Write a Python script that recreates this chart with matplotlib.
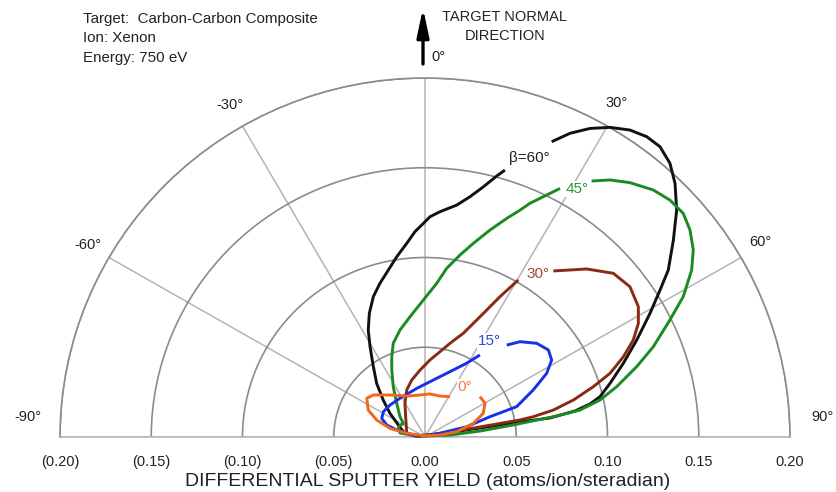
import numpy as np
import matplotlib
matplotlib.use("Agg")
import matplotlib.pyplot as plt
from matplotlib.transforms import offset_copy

plt.rcParams['font.family'] = ['Liberation Sans', 'DejaVu Sans']

# ---------------- data (yield components: lateral x, normal y; atoms/ion/sr) -------------
black_x = [0.0438, 0.0393, 0.0320, 0.0247, 0.0174, 0.0082, 0.0027, -0.0009, -0.0055, -0.0100,
           -0.0155, -0.0201, -0.0247, -0.0283, -0.0305, -0.0311, -0.0301, -0.0283, -0.0265, -0.0229,
           -0.0192, -0.0146, -0.0119, -0.0055, 0.0082, 0.0301, 0.0521, 0.0685, 0.0822, 0.0904,
           0.0959, 0.1014, 0.1087, 0.1160, 0.1233, 0.1288, 0.1333, 0.1361, 0.1379, 0.1370,
           0.1342, 0.1288, 0.1215, 0.1123, 0.1014, 0.0904, 0.0795, 0.0694]
black_y = [0.1487, 0.1454, 0.1394, 0.1339, 0.1292, 0.1255, 0.1227, 0.1190, 0.1144, 0.1079,
           0.1004, 0.0930, 0.0856, 0.0782, 0.0689, 0.0596, 0.0503, 0.0392, 0.0299, 0.0206,
           0.0132, 0.0067, 0.0030, 0.0006, 0.0017, 0.0050, 0.0084, 0.0106, 0.0145, 0.0184,
           0.0225, 0.0299, 0.0411, 0.0540, 0.0689, 0.0819, 0.0930, 0.1097, 0.1265, 0.1413,
           0.1525, 0.1617, 0.1673, 0.1710, 0.1725, 0.1719, 0.1692, 0.1645]

green_x = [0.0740, 0.0667, 0.0575, 0.0521, 0.0448, 0.0356, 0.0265, 0.0192, 0.0119, 0.0064,
           -0.0009, -0.0082, -0.0137, -0.0174, -0.0182, -0.0182, -0.0174, -0.0155, -0.0137, -0.0119,
           -0.0146, -0.0137, -0.0027, 0.0137, 0.0301, 0.0482, 0.0703, 0.0849, 0.0959, 0.1050,
           0.1160, 0.1251, 0.1342, 0.1415, 0.1461, 0.1470, 0.1452, 0.1415, 0.1342, 0.1251,
           0.1123, 0.1014, 0.0913]
green_y = [0.1385, 0.1348, 0.1302, 0.1264, 0.1218, 0.1153, 0.1079, 0.1014, 0.0940, 0.0856,
           0.0763, 0.0670, 0.0596, 0.0522, 0.0447, 0.0373, 0.0280, 0.0188, 0.0113, 0.0076,
           0.0057, 0.0022, 0.0003, 0.0011, 0.0033, 0.0067, 0.0113, 0.0150, 0.0206, 0.0280,
           0.0392, 0.0503, 0.0652, 0.0782, 0.0930, 0.1042, 0.1153, 0.1246, 0.1320, 0.1376,
           0.1417, 0.1432, 0.1426]

brown_x = [0.0511, 0.0411, 0.0338, 0.0265, 0.0210, 0.0137, 0.0082, 0.0027, -0.0027, -0.0073,
           -0.0100, -0.0110, -0.0106, -0.0100, -0.0038, 0.0137, 0.0301, 0.0521, 0.0593, 0.0703,
           0.0813, 0.0922, 0.1014, 0.1087, 0.1141, 0.1169, 0.1169, 0.1123, 0.1032, 0.0886, 0.0703]
brown_y = [0.0875, 0.0782, 0.0707, 0.0633, 0.0578, 0.0522, 0.0475, 0.0429, 0.0373, 0.0317,
           0.0262, 0.0188, 0.0113, 0.0021, 0.0003, 0.0028, 0.0056, 0.0095, 0.0113, 0.0150,
           0.0206, 0.0280, 0.0355, 0.0447, 0.0540, 0.0633, 0.0726, 0.0837, 0.0912, 0.0936, 0.0925]

blue_x = [0.0301, 0.0228, 0.0137, 0.0045, -0.0045, -0.0137, -0.0192, -0.0228, -0.0237, -0.0210,
          -0.0155, -0.0064, 0.0009, 0.0082, 0.0228, 0.0356, 0.0502, 0.0593, 0.0667, 0.0694,
          0.0676, 0.0612, 0.0521, 0.0448]
blue_y = [0.0457, 0.0411, 0.0364, 0.0317, 0.0271, 0.0216, 0.0178, 0.0141, 0.0104, 0.0067,
          0.0039, 0.0011, 0.0007, 0.0021, 0.0057, 0.0113, 0.0169, 0.0262, 0.0355, 0.0429,
          0.0485, 0.0522, 0.0531, 0.0512]

orange_x = [0.0137, 0.0082, 0.0027, -0.0027, -0.0100, -0.0192, -0.0283, -0.0319, -0.0311, -0.0265,
            -0.0192, -0.0100, -0.0009, 0.0082, 0.0174, 0.0265, 0.0319, 0.0329, 0.0301]
orange_y = [0.0225, 0.0228, 0.0240, 0.0234, 0.0228, 0.0234, 0.0234, 0.0216, 0.0150, 0.0095,
            0.0048, 0.0021, 0.0007, 0.0011, 0.0030, 0.0076, 0.0132, 0.0188, 0.0225]

series = [
    (black_x, black_y, '#111111'),
    (green_x, green_y, '#1b8a22'),
    (brown_x, brown_y, '#8a2a10'),
    (blue_x, blue_y, '#1530e8'),
    (orange_x, orange_y, '#f2661e'),
]
curve_labels = ['\u03b2=60\u00b0', '45\u00b0', '30\u00b0', '15\u00b0', '0\u00b0']
label_colors = ['#222222', '#2a9a30', '#a04a30', '#2a48e8', '#f07a48']

angle_ticks = [-90, -60, -30, 0, 30, 60, 90]
radial_ticks = [0.05, 0.10, 0.15, 0.20]
radial_tick_labels_left = ['(0.05)', '(0.10)', '(0.15)', '(0.20)']
radial_tick_labels_right = ['0.05', '0.10', '0.15', '0.20']

# ---------------- figure ----------------
W, H = 837, 492
fig = plt.figure(figsize=(W / 100, H / 100), dpi=100)

cx, cy = 425, 437          # pixel centre (from top)
rx, ry = 365, 359          # pixel radii of r = 0.20
ax_h = 2 * ry
ax = fig.add_axes([(cx - rx) / W, ((H - cy) - 0.25 * ax_h) / H, 2 * rx / W, ax_h / H],
                  projection='polar')
ax.set_theta_zero_location('N')
ax.set_theta_direction(-1)
ax.set_thetamin(-90)
ax.set_thetamax(90)
ax.set_rlim(0, 0.20)
ax.set_aspect('auto')

ax.set_xticks(np.deg2rad(angle_ticks))
ax.set_yticks(radial_ticks)
ax.set_xticklabels([])
ax.set_yticklabels([])
ax.xaxis.grid(True, color='#b4b4b4', lw=1.1)
ax.yaxis.grid(True, color='#8c8c8c', lw=1.2)
ax.spines['polar'].set_color('#8c8c8c')
ax.spines['polar'].set_linewidth(1.2)
for s in ('start', 'end'):
    ax.spines[s].set_color('#b4b4b4')
    ax.spines[s].set_linewidth(1.1)
ax.spines['inner'].set_visible(False)
ax.tick_params(length=0)

for xs, ys, c in series:
    xs = np.asarray(xs); ys = np.asarray(ys)
    ax.plot(np.arctan2(xs, ys), np.hypot(xs, ys), color=c, lw=2.1, solid_capstyle='butt',
            solid_joinstyle='round', clip_on=False, zorder=3)

# angle labels
for a in angle_ticks:
    if a == 0:
        continue
    if abs(a) == 90:
        ax.text(np.deg2rad(np.sign(a) * 87), 0.218, f"{a}\u00b0", ha='center', va='center',
                fontsize=10.5, color='#222222')
    else:
        ax.text(np.deg2rad(a + (-0.6 if a > 0 else 0)), 0.2135, f"{a}\u00b0", ha='center',
                va='center', fontsize=10.5, color='#222222')

# radial tick labels along baseline
tr = offset_copy(ax.transData, fig=fig, x=0, y=-25, units='dots')
for v, lab in zip(radial_ticks, radial_tick_labels_left):
    ax.text(np.deg2rad(-90), v, lab, transform=tr, ha='center', va='center', fontsize=10.5,
            color='#222222')
for v, lab in zip(radial_ticks, radial_tick_labels_right):
    ax.text(np.deg2rad(90), v, lab, transform=tr, ha='center', va='center', fontsize=10.5,
            color='#222222')
ax.text(0, 0, '0.00', transform=tr, ha='center', va='center', fontsize=10.5, color='#222222')

# curve labels
label_pos = [(529, 158), (577, 189), (538, 274), (489, 341), (465, 387)]
for (px, py), lab, c in zip(label_pos, curve_labels, label_colors):
    fig.text(px / W, 1 - py / H, lab, ha='center', va='center', fontsize=11, color=c,
             bbox=dict(facecolor='white', edgecolor='none', pad=0.5), zorder=5)

# header text
for i, t in enumerate(['Target:  Carbon-Carbon Composite', 'Ion: Xenon', 'Energy: 750 eV']):
    fig.text(83 / W, 1 - (19 + 19.3 * i) / H, t, ha='left', va='center', fontsize=10.9,
             color='#222222')

fig.text(505 / W, 1 - 17 / H, 'TARGET NORMAL', ha='center', va='center', fontsize=10.5,
         color='#222222')
fig.text(505 / W, 1 - 36 / H, 'DIRECTION', ha='center', va='center', fontsize=10.5,
         color='#222222')
fig.text(438 / W, 1 - 57 / H, '0\u00b0', ha='center', va='center', fontsize=10.5,
         color='#222222')
ax.annotate('', xy=(423, H - 8), xytext=(423, H - 64), xycoords='figure pixels',
            textcoords='figure pixels',
            arrowprops=dict(arrowstyle='-|>,head_length=1.7,head_width=0.36', lw=2.4,
                            color='black', mutation_scale=10, shrinkA=0, shrinkB=0))

fig.text(428 / W, 1 - 481 / H, 'DIFFERENTIAL SPUTTER YIELD (atoms/ion/steradian)',
         ha='center', va='center', fontsize=14, color='#222222')

fig.savefig('out.png', dpi=100)
